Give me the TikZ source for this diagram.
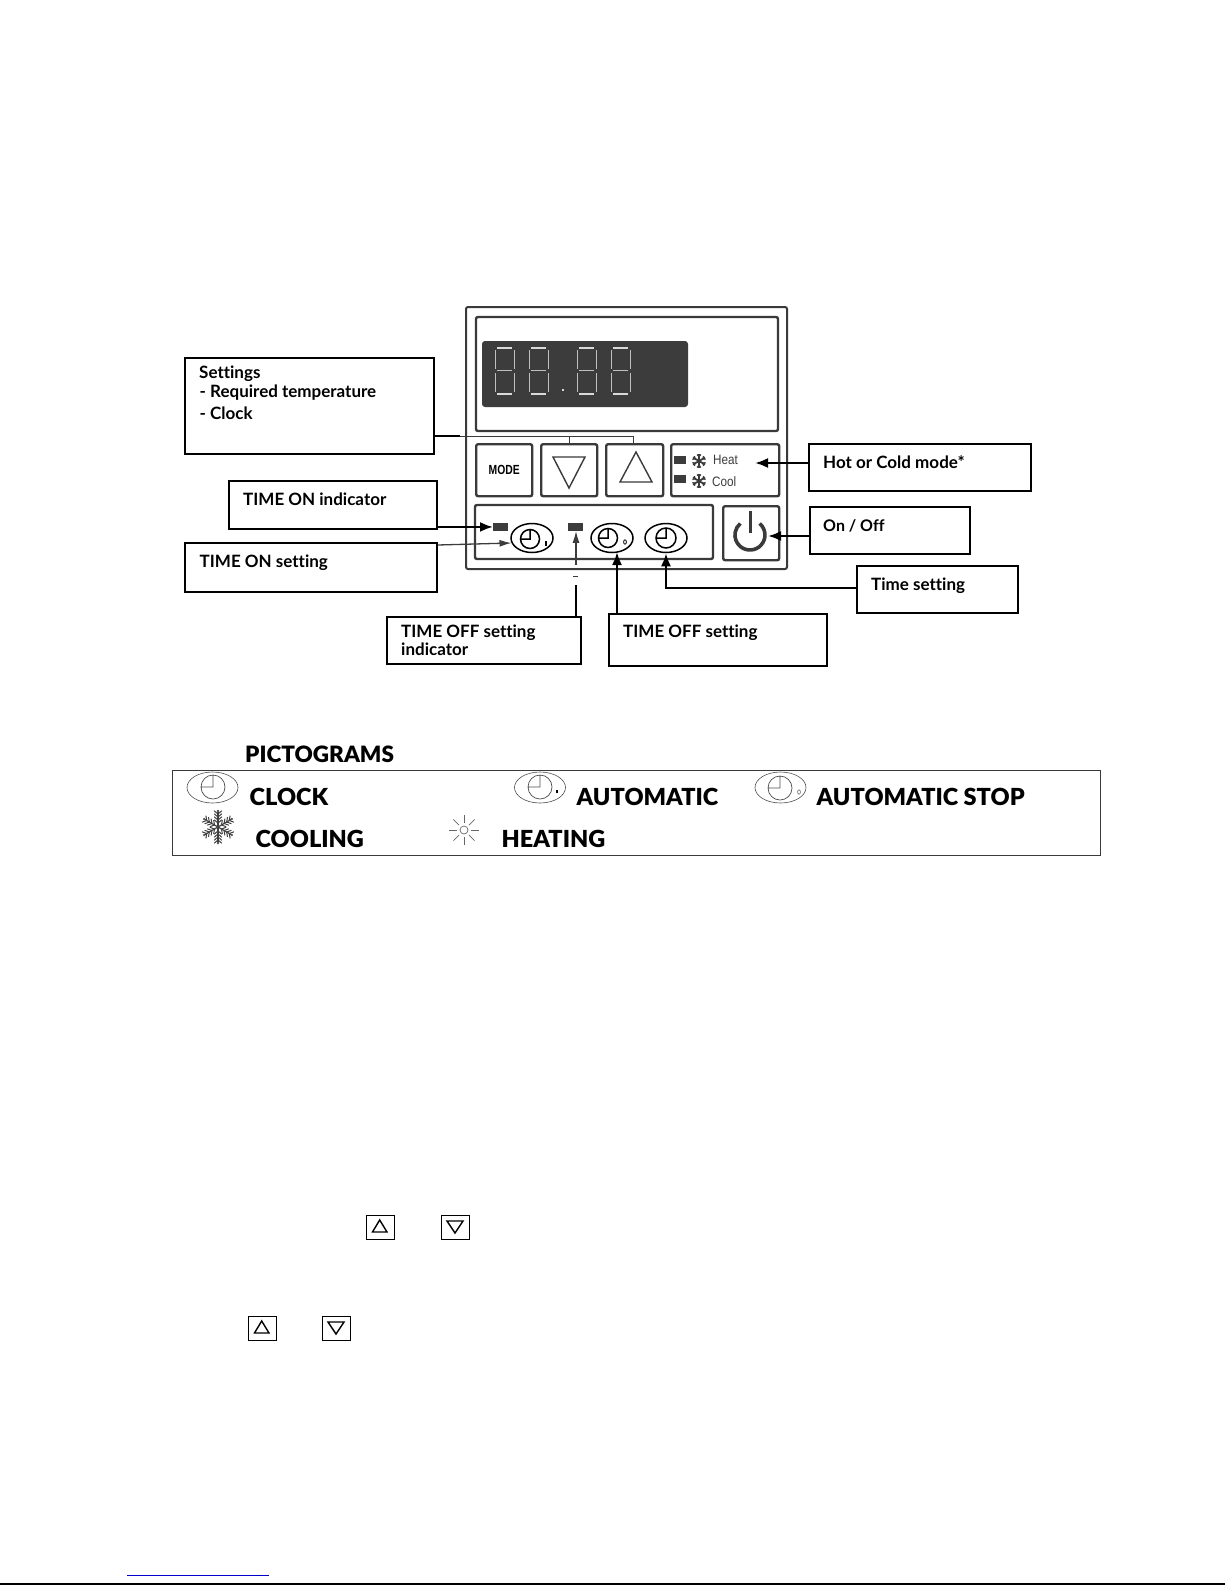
\documentclass[tikz,border=0pt]{standalone}
\usepackage{graphicx}
\usepackage{fontspec}
\setmainfont{Lato}[Ligatures=NoCommon]
\newfontfamily\hv{Lato Black}[Ligatures=NoCommon]
\newfontfamily\arialf{Liberation Sans}
\usetikzlibrary{shapes.geometric,arrows.meta}
\definecolor{panel}{HTML}{3A3A3A}
\definecolor{dark}{HTML}{3C3C3C}
\tikzset{
 cbox/.style={draw=black,line width=1.6pt,fill=white,inner sep=0pt,anchor=north west,xshift=-1pt},
 lbl/.style={inner sep=0pt,anchor=base west,font=\fontsize{17}{20}\selectfont\bfseries},
 pict/.style={inner sep=0pt,anchor=base west,font=\fontsize{23.5}{26}\selectfont\hv},
 pframe/.style={draw=panel,line width=2pt,rounded corners=2pt},
 btn/.style={draw=panel,line width=2.4pt,rounded corners=2pt,inner sep=0pt,anchor=north west,fill=white},
 led/.style={fill=dark,inner sep=0pt,anchor=north west},
 clk/.style={ellipse,draw=black,inner sep=0pt,line width=1.5pt},
 pclk/.style={ellipse,draw=black!70,inner sep=0pt,line width=.6pt,minimum width=51pt,minimum height=31pt},
 arr/.style={draw=black,line width=2.2pt,-{Latex[length=13pt,width=10pt]}},
 arrthin/.style={draw=dark,line width=1.3pt,-{Latex[length=12pt,width=7pt]}},
 conn/.style={draw=black,line width=2.2pt},
 thin line/.style={draw=panel,line width=.8pt},
 mini/.style={draw=black,line width=1.2pt,inner sep=0pt,anchor=north west,minimum width=28pt,minimum height=24pt},
}
\newcommand{\dispdigit}[1]{%
 \begin{scope}[shift={(#1,0)}]
  \draw[white!85!black,line width=1.8pt] (2,348) -- (17,348) (2,394) -- (17,394);
  \draw[white!75!black,line width=.8pt] (2,370.5) -- (17,370.5)
    (0,350) -- (0,369) (0,373) -- (0,392) (19,350) -- (19,369) (19,373) -- (19,392);
 \end{scope}}
\newcommand{\handsA}[3]{\draw[black,line width=1.5pt] (#1,#2) circle (#3) (#1,#2-#3) -- (#1,#2) -- (#1-#3,#2);}
\newcommand{\handsB}[3]{\draw[black!70,line width=.7pt] (#1,#2) circle (#3) (#1,#2-#3) -- (#1,#2) -- (#1-#3,#2);}
\newcommand{\snowsmall}[2]{\foreach \a in {30,90,...,330}{\draw[dark,line width=1.8pt] (#1,#2) -- ++(\a:7);
  \draw[dark,line width=1.2pt] (#1,#2) ++(\a:4.5) -- ++(\a+45:2.8) (#1,#2) ++(\a:4.5) -- ++(\a-45:2.8);}}
\begin{document}
\begin{tikzpicture}[x=1pt,y=-1pt]
\useasboundingbox (0,0) rectangle (1225,1585);
% panel
\draw[pframe] (466,307) rectangle (787,569);
\draw[pframe,line width=2.4pt] (476,317) rectangle (778,431);
\fill[dark,rounded corners=3pt] (482,341) rectangle (688,407);
\dispdigit{495}\dispdigit{529}\dispdigit{577}\dispdigit{611}
\fill[white!85!black] (562,389) rectangle (564,391);
\node[btn,minimum width=56pt,minimum height=52pt] (mode) at (475,443) {\scalebox{.9}[1.15]{\arialf\fontsize{11.5}{12}\selectfont\bfseries MODE}};
\node[btn,minimum width=56pt,minimum height=52pt] (down) at (540,443) {};
\node[btn,minimum width=57pt,minimum height=52pt] (up) at (605,443) {};
\node[btn,minimum width=108pt,minimum height=52pt] (hc) at (670,443) {};
\draw[panel,line width=1.4pt] (553,457) -- (585,457) -- (569,488) -- cycle;
\draw[panel,line width=1.4pt] (620,482) -- (652,482) -- (636,452) -- cycle;
\node[led,minimum width=12pt,minimum height=8pt] (ledh) at (674,456) {};
\node[led,minimum width=12pt,minimum height=8pt] (ledc) at (674,475) {};
\snowsmall{699}{461}\snowsmall{699}{481}
\node[inner sep=0pt,anchor=base west,text=dark] (heat) at (713,464) {\scalebox{.9}[1.05]{\arialf\fontsize{13}{14}\selectfont Heat}};
\node[inner sep=0pt,anchor=base west,text=dark] (cool) at (712,486) {\scalebox{.9}[1.05]{\arialf\fontsize{13}{14}\selectfont Cool}};
\draw[pframe,line width=2.4pt] (475,505) rectangle (713,559);
\node[btn,minimum width=56pt,minimum height=54pt] (pow) at (722,505) {};
\draw[panel,line width=3.6pt] (759.6,523.5) arc[start angle=-50,end angle=230,radius=15];
\draw[panel,line width=3pt] (750,511) -- (750,533);
\node[led,minimum width=15pt,minimum height=7.5pt] (led1) at (493,523) {};
\node[led,minimum width=15pt,minimum height=7.5pt] (led2) at (568,523) {};
\node[clk,minimum width=42pt,minimum height=29pt] (e1) at (532,538) {};
\node[clk,minimum width=42pt,minimum height=29pt] (e2) at (612,538) {};
\node[clk,minimum width=42pt,minimum height=29pt] (e3) at (666,538) {};
\handsA{530}{539}{9.5}\handsA{608}{538}{9.5}\handsA{666}{538}{10}
\fill[black] (545,541) rectangle (547,546);
\draw[black,line width=.8pt] (625,542) ellipse (1.4 and 2.2);
% callouts
\node[cbox,minimum width=249pt,minimum height=96pt] (settings) at (185,357) {};
\node[lbl] (settingst) at (199,378) {Settings};
\node[lbl] (settingsa) at (199.500,397) {- Required temperature};
\node[lbl] (settingsb) at (199.500,419) {- Clock};
\node[cbox,minimum width=208pt,minimum height=48pt] (tonind) at (229,480) {};
\node[lbl] (tonindt) at (243,505) {{\hv TIME ON} indicator};
\node[cbox,minimum width=252pt,minimum height=49pt] (tonset) at (185,542) {};
\node[lbl] (tonsett) at (199.500,567) {{\hv TIME ON} setting};
\node[cbox,minimum width=194pt,minimum height=47pt] (toffind) at (387,616) {};
\node[lbl] (toffindt) at (401,637) {{\hv TIME OFF} setting};
\node[lbl] (toffindb) at (401,655) {indicator};
\node[cbox,minimum width=218pt,minimum height=52pt] (toffset) at (609,613) {};
\node[lbl] (toffsett) at (623,637) {{\hv TIME OFF} setting};
\node[cbox,minimum width=161pt,minimum height=47pt] (tset) at (857,565) {};
\node[lbl] (tsett) at (871,590) {Time setting};
\node[cbox,minimum width=222pt,minimum height=47pt] (hot) at (809,443) {};
\node[lbl] (hott) at (823,468) {Hot or Cold mode*};
\node[cbox,minimum width=160pt,minimum height=47pt] (onoff) at (810,506) {};
\node[lbl,font=\fontsize{16}{20}\selectfont\bfseries] (onofft) at (823,531) {On / Off};
% connectors
\coordinate (sj) at (569,436);
\coordinate (sm) at (460,436);
\draw[conn] (settings.east |- sj) -- (sm);
\draw[thin line] (sm) -- (633,436);
\draw[thin line] (569,436) -- (down.north -| 569,0);
\draw[thin line] (633,436) -- (up.north -| 633,0);
\draw[arr] (tonind.east |- led1.west) -- (led1.west);
\coordinate (e1t) at (511.5,543);
\coordinate (tons) at (tonset.north east);
\draw[arrthin] ([yshift=-3pt]tons) -- (e1t);
\draw[conn] (toffind.north -| 576,0) -- (576,585);
\draw[thin line] (573,576) -- (578,576);
\draw[arrthin] (576,565) -- (led2.south -| 576,0);
\draw[arr] (toffset.north -| 617,0) -- (617,552);
\draw[arr] (tset.west |- 0,588) -- (666,588) -- (e3.south);
\draw[arr] (hot.west |- 0,463) -- (755,463);
\draw[arr] (onoff.west |- 0,536) -- (768,536);
% pictograms
\node[pict,font=\fontsize{22.5}{24}\selectfont\hv] (ptitle) at (245,762) {PICTOGRAMS};
\node[draw=panel,line width=1.4pt,inner sep=0pt,anchor=north west,minimum width=928pt,minimum height=85pt] (pbox) at (172,770) {};
\node[pclk] (p1) at (212.500,787.500) {};
\node[pclk] (p2) at (540,787.500) {};
\node[pclk] (p3) at (780.500,787.500) {};
\handsB{213}{787}{12}\handsB{540}{787}{12}\handsB{780}{788}{12}
\fill[black] (556,790) rectangle (557.500,793);
\draw[black!70,line width=.5pt] (799,792) ellipse (1.4 and 2.2);
\node[pict] (pclock) at (249.500,805) {CLOCK};
\node[pict] (pauto) at (576.500,805) {AUTOMATIC};
\node[pict] (pstop) at (816.500,805) {AUTOMATIC STOP};
\node[pict] (pcool) at (255.500,847) {COOLING};
\node[pict] (pheat) at (501.500,847) {HEATING};
\foreach \a in {30,90,...,330}{
 \draw[black!75,line width=1.2pt] (218,827) -- ++(\a:15);
 \fill[black!70] (218,827) ++(\a:16) circle (1.3);
 \foreach \r in {4,7,10,13}{
  \draw[black!75,line width=1pt] (218,827) ++(\a:\r) -- ++(\a+50:5) (218,827) ++(\a:\r) -- ++(\a-50:5);}}
\draw[black!60,line width=.7pt] (464,830) circle (4);
\foreach \a in {0,45,...,315}{\draw[black!60,line width=.7pt] (464,830) ++(\a:7) -- ++(\a:8);}
% small buttons
\foreach \n/\x/\y/\d in {ua/366/1215/0,da/441/1215/1,ub/248/1316/0,db/322/1316/1}{
 \node[mini] (\n) at (\x,\y) {};
 \ifnum\d=0
  \draw[black,line width=1.4pt] (\x+6.500,\y+17) -- (\x+21,\y+17) -- (\x+13.700,\y+5) -- cycle;
 \else
  \draw[black,line width=1.4pt] (\x+6,\y+6) -- (\x+22,\y+6) -- (\x+14,\y+18) -- cycle;
 \fi
 \draw[black,line width=1.2pt] (\x+28.600,\y) -- (\x+28.600,\y+24.600) -- (\x,\y+24.600);
}
% page foot
\coordinate (bl) at (127,1575); \coordinate (br) at (269,1575);
\draw[blue!80!black,line width=1pt] (bl) -- (br);
\coordinate (fl) at (0,1584); \coordinate (fr) at (1225,1584);
\draw[black,line width=1.2pt] (fl) -- (fr);
\end{tikzpicture}
\end{document}
